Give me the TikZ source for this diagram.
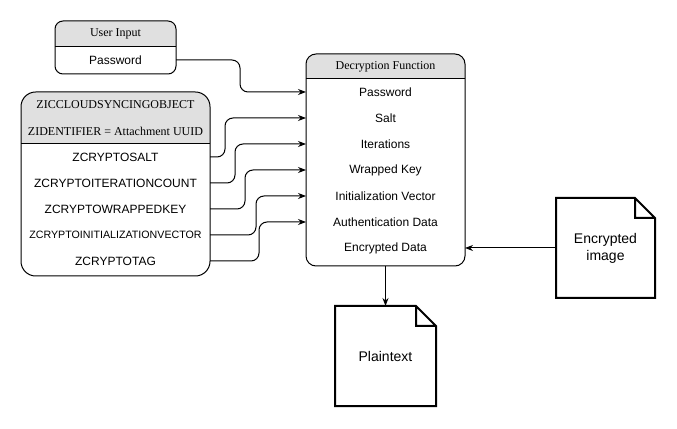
\documentclass[tikz,border=0pt]{standalone}
\usepackage{fontspec}
\setmainfont{Liberation Sans}
\newfontfamily\headfont{Liberation Serif}
\usepackage{tikz}
\usetikzlibrary{positioning, arrows.meta, backgrounds}
\definecolor{headgray}{RGB}{224,224,224}

\begin{document}
\begin{tikzpicture}[x=0.75pt, y=0.75pt, >={Stealth[length=6pt,width=4.5pt]},
        table node/.style={draw, rounded corners=#1, line width=0.75pt, inner sep=0pt, outer sep=0pt},
        head node/.style={minimum height=19.5pt, inner sep=0pt, outer sep=0pt, font=\headfont\fontsize{9}{11}\selectfont},
        row node/.style={minimum height=19.5pt, inner sep=0pt, outer sep=0pt, font=\fontsize{9}{11}\selectfont},
        doc node/.style={minimum height=75pt, inner sep=0pt, outer sep=0pt, align=center, font=\fontsize{10.5}{12.6}\selectfont},
        link/.style={->, line width=0.75pt, rounded corners=6pt}]

    \useasboundingbox (0,0) rectangle (677,428);

    % User input
    \node[table node=6pt, minimum width=90.75pt, minimum height=39.75pt] (ui) at (115.5,380.5) {};
    \node[head node, minimum width=90.75pt, below=0pt of ui.north] (uihead) {User Input};
    \node[row node, minimum width=90.75pt, below=0pt of uihead] (uipw) {Password};

    % Database record
    \node[table node=11pt, minimum width=141.75pt, minimum height=138pt] (zic) at (115.5,244) {};
    \node[head node, minimum width=141.75pt, below=0pt of zic.north] (zichead1) {ZICCLOUDSYNCINGOBJECT};
    \node[head node, minimum width=141.75pt, below=0pt of zichead1] (zichead2) {ZIDENTIFIER = Attachment UUID};
    \node[row node, minimum width=141.75pt, below=0pt of zichead2] (zsalt) {ZCRYPTOSALT};
    \node[row node, minimum width=141.75pt, below=0pt of zsalt] (ziter) {ZCRYPTOITERATIONCOUNT};
    \node[row node, minimum width=141.75pt, below=0pt of ziter] (zkey) {ZCRYPTOWRAPPEDKEY};
    \node[row node, minimum width=141.75pt, below=0pt of zkey, font=\fontsize{8}{10}\selectfont] (ziv) {ZCRYPTOINITIALIZATIONVECTOR};
    \node[row node, minimum width=141.75pt, below=0pt of ziv] (ztag) {ZCRYPTOTAG};

    % Decryption function
    \node[table node=7.5pt, minimum width=119.25pt, minimum height=159pt] (dec) at (385.5,268) {};
    \node[head node, minimum width=119.25pt, minimum height=18.75pt, below=0pt of dec.north] (dechead) {Decryption Function};
    \node[row node, minimum width=119.25pt, below=0pt of dechead] (dpw) {Password};
    \node[row node, minimum width=119.25pt, below=0pt of dpw] (dsalt) {Salt};
    \node[row node, minimum width=119.25pt, below=0pt of dsalt] (diter) {Iterations};
    \node[row node, minimum width=119.25pt, below=0pt of diter] (dkey) {Wrapped Key};
    \node[row node, minimum width=119.25pt, below=0pt of dkey] (dvec) {Initialization Vector};
    \node[row node, minimum width=119.25pt, below=0pt of dvec] (dauth) {Authentication Data};
    \node[row node, minimum width=119.25pt, below=0pt of dauth] (denc) {Encrypted Data};

    % Documents
    \node[doc node, minimum width=75.75pt] (plain) at (385.5,72) {Plaintext};
    \node[doc node, minimum width=74.25pt] (encimg) at (605.5,180) {Encrypted\\image};
    \foreach \d in {plain, encimg}
        \draw[line width=1.5pt] (\d.south west) -- (\d.north west) -- ([xshift=-15pt]\d.north east)
            -- ([yshift=-15pt]\d.north east) -- (\d.south east) -- cycle
            ([xshift=-15pt]\d.north east) |- ([yshift=-15pt]\d.north east);

    % Header shading
    \begin{scope}[on background layer]
        \foreach \t/\h/\r in {ui/uihead/6pt, zic/zichead2/11pt, dec/dechead/7.5pt} {
            \begin{scope}
                \clip (\t.north west) rectangle (\h.south east);
                \fill[headgray, rounded corners=\r] (\t.north west) rectangle (\t.south east);
            \end{scope}
        }
    \end{scope}
    \foreach \h in {uihead, zichead2, dechead}
        \draw[line width=0.75pt] (\h.south west) -- (\h.south east);

    % Edges
    \draw[link] (uipw.east) -- ++(64,0) |- (dpw.west);
    \draw[link] (zsalt.east) -- ++(15,0) |- (dsalt.west);
    \draw[link] (ziter.east) -- ++(25,0) |- (diter.west);
    \draw[link] (zkey.east) -- ++(35,0) |- (dkey.west);
    \draw[link] (ziv.east) -- ++(46,0) |- (dvec.west);
    \draw[link] (ztag.east) -- ++(49,0) |- (dauth.west);
    \draw[link] (encimg.west) -- (denc.east);
    \draw[link] (dec.south) -- (plain.north);

\end{tikzpicture}
\end{document}
